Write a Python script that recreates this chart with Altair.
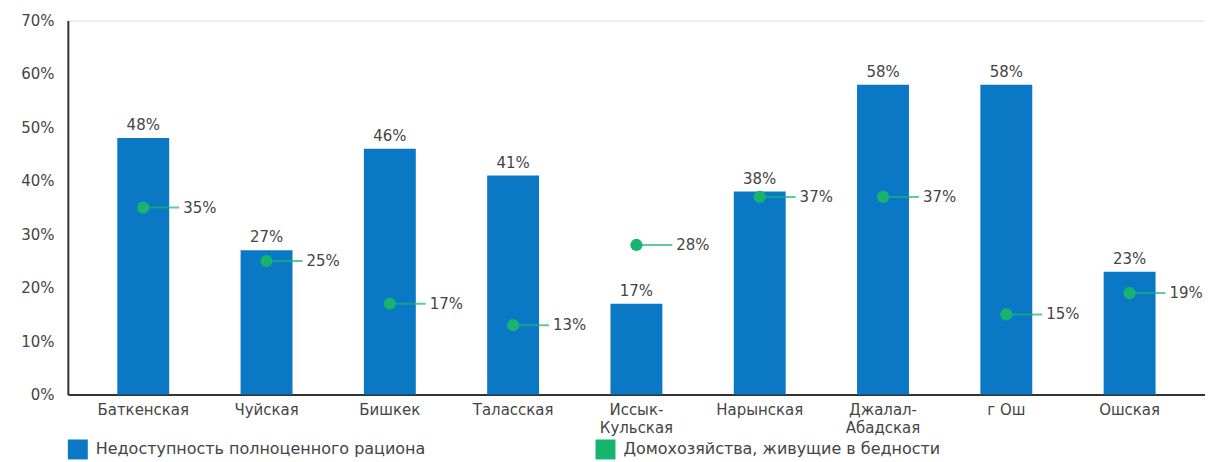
import altair as alt
import pandas as pd

regions = ["Баткенская", "Чуйская", "Бишкек", "Таласская", "Иссык-Кульская",
           "Нарынская", "Джалал-Абадская", "г Ош", "Ошская"]
diet = [48, 27, 46, 41, 17, 38, 58, 58, 23]
poverty = [35, 25, 17, 13, 28, 37, 37, 15, 19]
series = ["Недоступность полноценного рациона", "Домохозяйства, живущие в бедности"]
colors = ["#0b78c6", "#17b470"]

rows = []
for r, d, p in zip(regions, diet, poverty):
    rows.append({"region": r, "series": series[0], "value": d / 100})
    rows.append({"region": r, "series": series[1], "value": p / 100})
df = pd.DataFrame(rows)

FONT = "DejaVu Sans"
TXT = "#444444"

x = alt.X("region:N", sort=regions, title=None,
          scale=alt.Scale(paddingInner=0.579, paddingOuter=0.401),
          axis=alt.Axis(labelAngle=0, ticks=False, domainColor="#333333", domainWidth=2,
                        labelColor=TXT, labelFont=FONT, labelFontSize=15, labelPadding=8,
                        labelLineHeight=18, labelBaseline="top",
                        labelExpr="indexof(datum.label,'-')>0 ? [slice(datum.label,0,indexof(datum.label,'-')+1), slice(datum.label,indexof(datum.label,'-')+1)] : datum.label"))
y = alt.Y("value:Q", title=None,
          scale=alt.Scale(domain=[0, 0.7], nice=False),
          axis=alt.Axis(values=[0, 0.1, 0.2, 0.3, 0.4, 0.5, 0.6, 0.7], format=".0%",
                        grid=False, ticks=False, domainColor="#333333", domainWidth=2,
                        labelColor=TXT, labelFont=FONT, labelFontSize=15, labelPadding=14))
color = alt.Color("series:N", scale=alt.Scale(domain=series, range=colors),
                  legend=alt.Legend(title=None, orient="none", legendX=0, legendY=420,
                                    direction="horizontal", columns=2, symbolType="square",
                                    symbolSize=400, symbolStrokeWidth=0, symbolOpacity=1,
                                    labelFont=FONT, labelFontSize=16, labelColor=TXT,
                                    labelLimit=600, columnPadding=170, labelOffset=8))

base = alt.Chart(df)
bars = base.transform_filter(alt.datum.series == series[0]).mark_bar().encode(x=x, y=y, color=color)
bar_labels = base.transform_filter(alt.datum.series == series[0]).mark_text(
    baseline="bottom", dy=-5, font=FONT, fontSize=15, color=TXT).encode(
    x=x, y=y, text=alt.Text("value:Q", format=".0%"))
ticks = base.transform_filter(alt.datum.series == series[1]).mark_tick(
    size=36, thickness=2, xOffset=18, color=colors[1]).encode(x=x, y=y)
dots = base.transform_filter(alt.datum.series == series[1]).mark_point(
    filled=True, size=150, opacity=1, shape="circle").encode(x=x, y=y, color=color)
dot_labels = base.transform_filter(alt.datum.series == series[1]).mark_text(
    align="left", baseline="middle", dx=40, font=FONT, fontSize=15, color=TXT).encode(
    x=x, y=y, text=alt.Text("value:Q", format=".0%"))

chart = alt.layer(bars, bar_labels, ticks, dots, dot_labels).properties(
    width=1140, height=375,
    padding={"left": 60, "top": 12, "right": 0, "bottom": 66},
    autosize=alt.AutoSizeParams(type="none"),
).configure_view(stroke=None).configure(background="white")

chart.save("out.html", embed_options={"renderer": "svg", "actions": False})
